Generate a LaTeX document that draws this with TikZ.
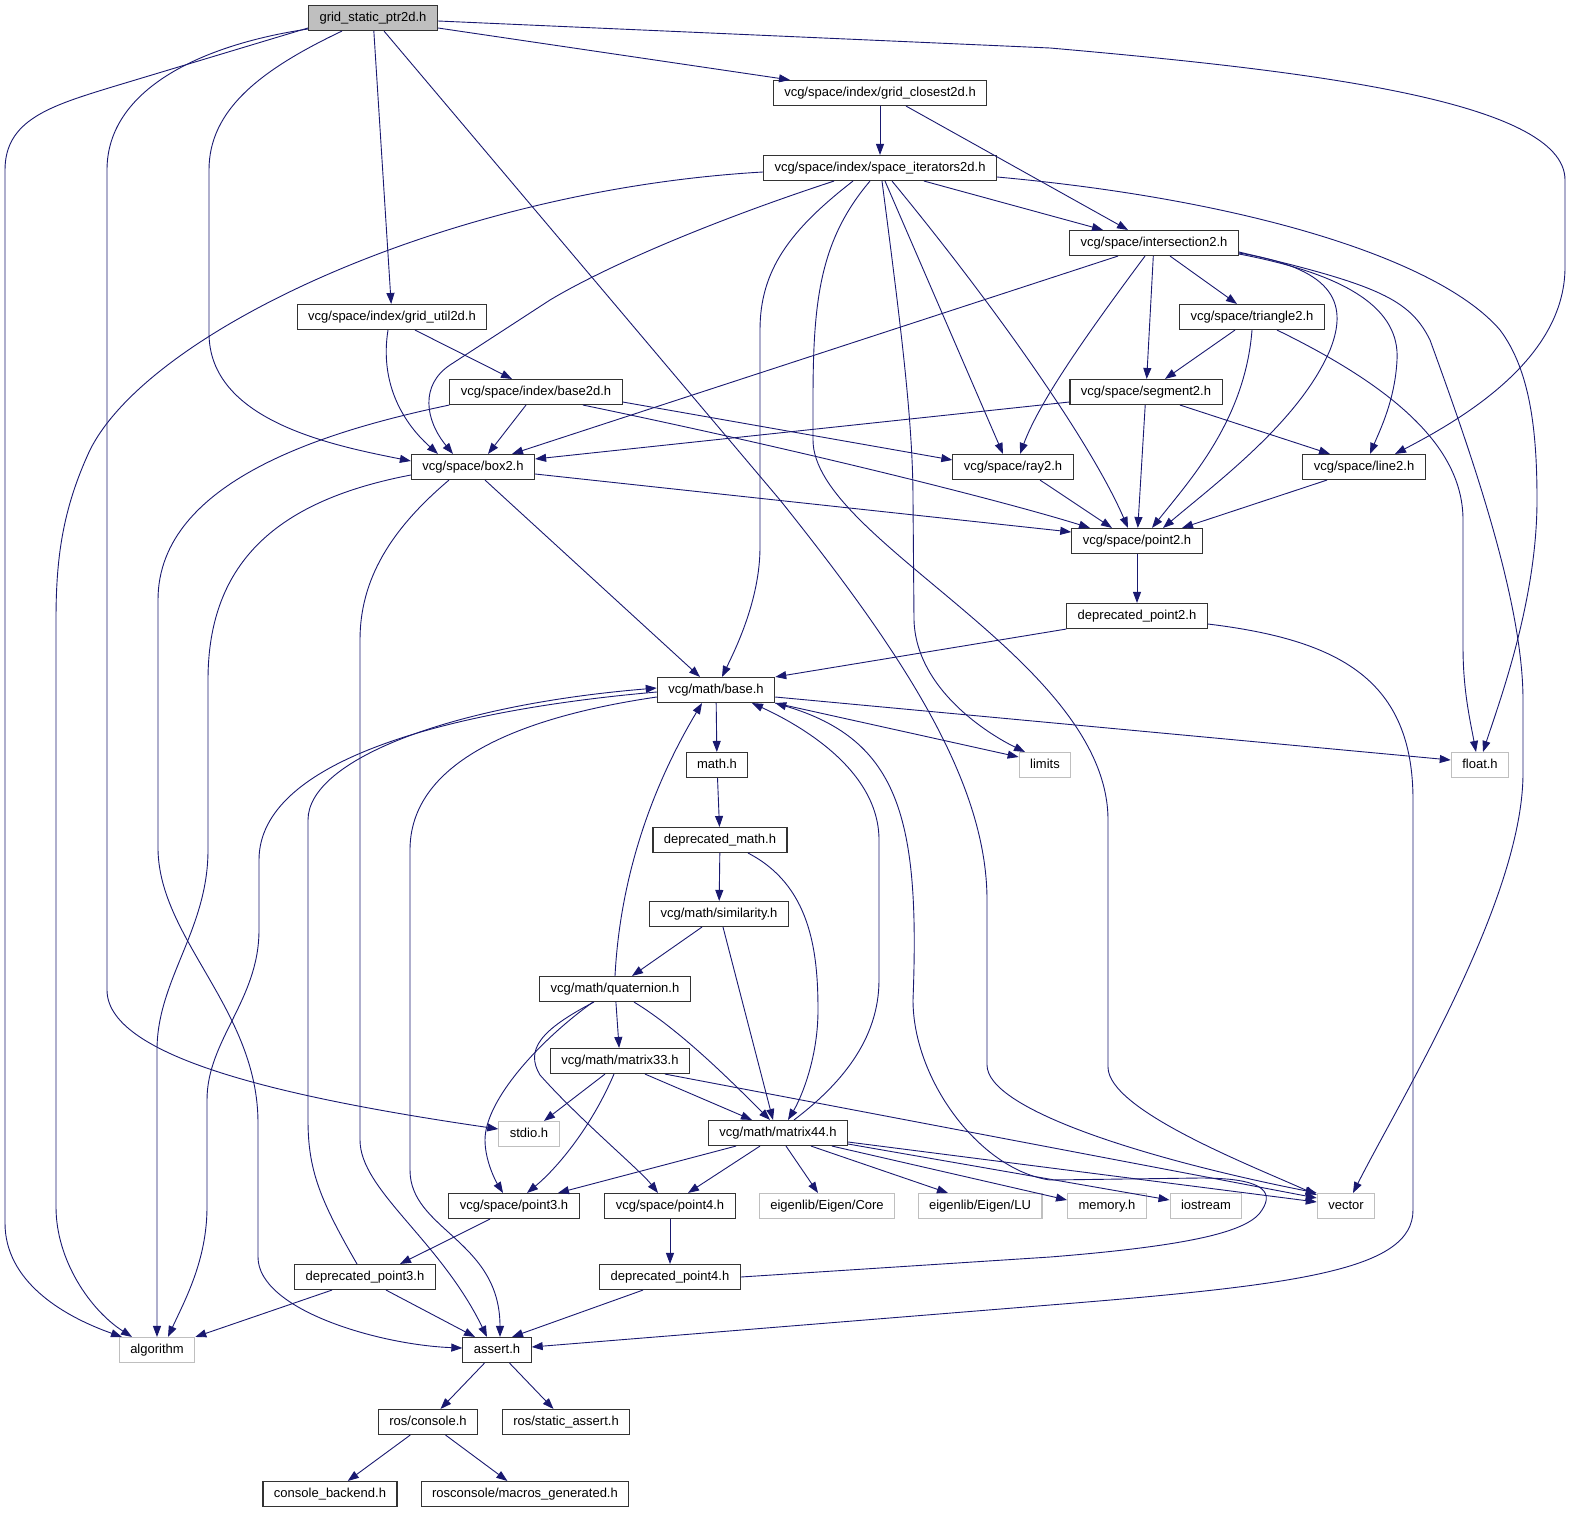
\documentclass[tikz,border=0pt]{standalone}
\usepackage{fontspec}
\setmainfont{Liberation Sans}
\usetikzlibrary{arrows.meta}
\definecolor{edgeblue}{HTML}{191970}
\begin{document}
\begin{tikzpicture}[>={Triangle[length=11pt,width=8pt]},x=1pt,y=-1pt,
	font=\fontsize{13}{15}\selectfont,
	hfile/.style={draw=black!80,line width=1.1pt,fill=white,inner xsep=11pt,inner ysep=0pt,minimum height=25pt,text height=10pt,text depth=3pt},
	sysfile/.style={hfile,draw=black!25},
	mainfile/.style={hfile,fill=black!25},
	incl/.style={->,draw=edgeblue,line width=0.9pt}]
	\useasboundingbox (0,0) rectangle (1571,1531);
	% files
	\node[mainfile] (root) at (373,18) {grid\_static\_ptr2d.h};
	\node[hfile] (gclosest) at (880,93) {vcg/space/index/grid\_closest2d.h};
	\node[hfile] (spiter) at (880,168) {vcg/space/index/space\_iterators2d.h};
	\node[hfile] (isect) at (1154,243) {vcg/space/intersection2.h};
	\node[hfile] (gutil) at (392,317) {vcg/space/index/grid\_util2d.h};
	\node[hfile] (tri) at (1252,317) {vcg/space/triangle2.h};
	\node[hfile] (base2d) at (536,392) {vcg/space/index/base2d.h};
	\node[hfile] (segh) at (1146,392) {vcg/space/segment2.h};
	\node[hfile] (boxh) at (473,467) {vcg/space/box2.h};
	\node[hfile] (rayh) at (1013,467) {vcg/space/ray2.h};
	\node[hfile] (lineh) at (1364,467) {vcg/space/line2.h};
	\node[hfile] (pt2) at (1137,541) {vcg/space/point2.h};
	\node[hfile] (dpt2) at (1137,616) {deprecated\_point2.h};
	\node[hfile] (mbase) at (716,690) {vcg/math/base.h};
	\node[hfile] (mathh) at (717,765) {math.h};
	\node[sysfile] (limits) at (1045,765) {limits};
	\node[sysfile] (floath) at (1480,765) {float.h};
	\node[hfile] (dmath) at (720,840) {deprecated\_math.h};
	\node[hfile] (sim) at (719,914) {vcg/math/similarity.h};
	\node[hfile] (quat) at (615,989) {vcg/math/quaternion.h};
	\node[hfile] (m33) at (620,1061) {vcg/math/matrix33.h};
	\node[sysfile] (stdio) at (529,1134) {stdio.h};
	\node[hfile] (m44) at (778,1133) {vcg/math/matrix44.h};
	\node[hfile] (pt3) at (514,1206) {vcg/space/point3.h};
	\node[hfile] (pt4) at (670,1206) {vcg/space/point4.h};
	\node[sysfile] (ecore) at (827,1206) {eigenlib/Eigen/Core};
	\node[sysfile] (elu) at (980,1206) {eigenlib/Eigen/LU};
	\node[sysfile] (memh) at (1107,1206) {memory.h};
	\node[sysfile] (iost) at (1206,1206) {iostream};
	\node[sysfile] (vect) at (1346,1206) {vector};
	\node[hfile] (dpt3) at (365,1277) {deprecated\_point3.h};
	\node[hfile] (dpt4) at (670,1277) {deprecated\_point4.h};
	\node[sysfile] (algo) at (157,1350) {algorithm};
	\node[hfile] (assrt) at (497,1350) {assert.h};
	\node[hfile] (rcons) at (428,1422) {ros/console.h};
	\node[hfile] (rsass) at (566,1422) {ros/static\_assert.h};
	\node[hfile] (cback) at (330,1494) {console\_backend.h};
	\node[hfile] (rmac) at (525,1494) {rosconsole/macros\_generated.h};
	% grid_static_ptr2d.h
	\draw[incl] ([yshift=-10pt]root.west) -- (112,87) .. controls (50,106) and (5,120) .. (5,170) -- (5,1223) .. controls (5,1280) and (60,1315) .. ([xshift=-35pt]algo.north);
	\draw[incl] ([yshift=-11pt]root.west) .. controls (200,45) and (107,90) .. (107,170) -- (107,990) .. controls (107,1060) and (300,1100) .. ([yshift=5pt]stdio.west);
	\draw[incl] ([xshift=-31pt]root.south) .. controls (260,70) and (209,110) .. (209,170) -- (209,333) .. controls (209,420) and (330,445) .. ([yshift=6pt]boxh.west);
	\draw[incl] (root) -- (gutil);
	\draw[incl] ([xshift=11pt]root.south) -- (780,500) .. controls (900,650) and (987,780) .. (987,900) -- (987,1065) .. controls (987,1110) and (1150,1160) .. (vect.north west);
	\draw[incl] ([yshift=-10pt]root.east) -- ([xshift=-90pt]gclosest.north);
	\draw[incl] ([yshift=-3pt]root.east) -- (1050,48) .. controls (1300,70) and (1565,100) .. (1565,180) -- (1565,267) .. controls (1565,360) and (1460,420) .. ([xshift=31pt]lineh.north);
	% grid_closest2d.h
	\draw[incl] (gclosest) -- (spiter);
	\draw[incl] ([xshift=26pt]gclosest.south) -- ([xshift=-26pt]isect.north);
	% space_iterators2d.h
	\draw[incl] ([yshift=-4pt]spiter.west) .. controls (450,190) and (150,330) .. (90,450) .. controls (62,510) and (56,560) .. (56,620) -- (56,1207) .. controls (56,1260) and (90,1310) .. ([xshift=-25pt]algo.north);
	\draw[incl] ([xshift=-46pt]spiter.south) .. controls (700,225) and (600,270) .. (550,300) -- (450,365) .. controls (420,385) and (425,420) .. ([xshift=-20pt]boxh.north);
	\draw[incl] ([xshift=-27pt]spiter.south) .. controls (790,230) and (760,270) .. (760,330) -- (760,547) .. controls (760,600) and (735,650) .. ([xshift=6pt]mbase.north);
	\draw[incl] ([xshift=-10pt]spiter.south) .. controls (820,240) and (813,300) .. (813,400) -- (813,440) .. controls (813,540) and (1108,660) .. (1108,820) -- (1108,1067) .. controls (1108,1110) and (1250,1165) .. ([yshift=-2pt]vect.north west);
	\draw[incl] ([xshift=2pt]spiter.south) .. controls (900,320) and (913,420) .. (913,500) -- (914,620) .. controls (916,690) and (990,735) .. ([xshift=-20pt]limits.north);
	\draw[incl] ([xshift=5pt]spiter.south) -- ([xshift=-10pt]rayh.north);
	\draw[incl] ([xshift=12pt]spiter.south) .. controls (990,300) and (1090,440) .. ([xshift=-9pt]pt2.north);
	\draw[incl] ([xshift=44pt]spiter.south) -- ([xshift=-51pt]isect.north);
	\draw[incl] ([yshift=-9pt]spiter.east) .. controls (1250,200) and (1440,260) .. (1500,330) .. controls (1530,370) and (1537,430) .. (1537,500) .. controls (1537,600) and (1500,700) .. ([xshift=3pt]floath.north);
	% intersection2.h
	\draw[incl] ([xshift=-36pt]isect.south) -- ([xshift=39pt]boxh.north);
	\draw[incl] ([xshift=-9pt]isect.south) .. controls (1090,330) and (1040,400) .. ([xshift=7pt]rayh.north);
	\draw[incl] (isect) -- (segh);
	\draw[incl] ([xshift=16pt]isect.south) -- ([xshift=-15pt]tri.north);
	\draw[incl] ([yshift=-10pt]isect.east) .. controls (1330,268) and (1350,300) .. (1330,350) .. controls (1300,420) and (1220,480) .. ([xshift=26pt]pt2.north);
	\draw[incl] ([yshift=-11pt]isect.east) .. controls (1350,275) and (1400,310) .. (1397,360) .. controls (1395,400) and (1380,430) .. ([xshift=6pt]lineh.north);
	\draw[incl] ([yshift=-9pt]isect.east) .. controls (1380,285) and (1410,300) .. (1430,340) .. controls (1470,450) and (1523,600) .. (1523,700) -- (1523,773) .. controls (1523,900) and (1400,1100) .. ([xshift=7pt]vect.north);
	% triangle2.h
	\draw[incl] ([xshift=-17pt]tri.south) -- ([xshift=19pt]segh.north);
	\draw[incl] (tri.south) .. controls (1245,420) and (1190,480) .. ([xshift=15pt]pt2.north);
	\draw[incl] ([xshift=25pt]tri.south) .. controls (1400,390) and (1463,450) .. (1463,520) -- (1463,647) .. controls (1463,690) and (1470,720) .. ([xshift=-4pt]floath.north);
	% segment2.h
	\draw[incl] ([yshift=-10pt]segh.west) -- ([yshift=8pt]boxh.east);
	\draw[incl] (segh) -- (pt2);
	\draw[incl] ([xshift=34pt]segh.south) -- ([xshift=-34pt]lineh.north);
	% box2.h
	\draw[incl] ([yshift=-8pt]boxh.west) .. controls (280,500) and (208,560) .. (208,680) -- (208,850) .. controls (208,930) and (157,980) .. (157,1050) -- (algo.north);
	\draw[incl] ([yshift=-7pt]boxh.east) -- ([yshift=9pt]pt2.west);
	\draw[incl] ([xshift=12pt]boxh.south) -- ([xshift=-16pt]mbase.north);
	\draw[incl] ([xshift=-24pt]boxh.south) .. controls (390,530) and (360,580) .. (360,640) -- (360,1140) .. controls (360,1190) and (440,1240) .. ([xshift=-10pt]assrt.north);
	% base2d.h
	\draw[incl] ([xshift=-10pt]base2d.south) -- ([xshift=15pt]boxh.north);
	\draw[incl] ([yshift=-10pt]base2d.east) -- ([yshift=7pt]rayh.west);
	\draw[incl] ([xshift=47pt]base2d.south) .. controls (800,450) and (1000,500) .. ([xshift=-47pt]pt2.north);
	\draw[incl] (base2d.south west) .. controls (330,430) and (158,480) .. (158,600) -- (158,850) .. controls (160,940) and (258,1010) .. (258,1123) -- (258,1257) .. controls (258,1310) and (380,1345) .. ([yshift=2pt]assrt.west);
	% grid_util2d.h
	\draw[incl] ([xshift=-4pt]gutil.south) .. controls (380,380) and (400,420) .. ([xshift=-35pt]boxh.north);
	\draw[incl] ([xshift=23pt]gutil.south) -- ([xshift=-24pt]base2d.north);
	% ray2.h, line2.h, point2.h
	\draw[incl] ([xshift=27pt]rayh.south) -- ([xshift=-25pt]pt2.north);
	\draw[incl] ([xshift=-37pt]lineh.south) -- ([xshift=45pt]pt2.north);
	\draw[incl] (pt2) -- (dpt2);
	\draw[incl] (dpt2.south west) -- (mbase.north east);
	\draw[incl] ([yshift=-8pt]dpt2.east) .. controls (1340,640) and (1413,680) .. (1413,800) -- (1413,1210) .. controls (1413,1270) and (1300,1285) .. (1050,1305) -- ([yshift=3pt]assrt.east);
	% base.h
	\draw[incl] (mbase) -- (mathh);
	\draw[incl] (mbase.south east) -- ([yshift=8pt]limits.west);
	\draw[incl] ([yshift=-7pt]mbase.east) -- ([yshift=5pt]floath.west);
	\draw[incl] ([yshift=-2pt]mbase.west) .. controls (450,710) and (259,760) .. (259,860) -- (259,930) .. controls (259,1000) and (207,1040) .. (207,1100) -- (207,1207) .. controls (207,1260) and (185,1300) .. ([xshift=11pt]algo.north);
	\draw[incl] ([yshift=-7pt]mbase.west) .. controls (500,720) and (410,770) .. (410,850) -- (410,1170) .. controls (410,1230) and (500,1240) .. ([xshift=3pt]assrt.north);
	% math chain
	\draw[incl] (mathh) -- (dmath);
	\draw[incl] (dmath) -- (sim);
	\draw[incl] ([xshift=28pt]dmath.south) .. controls (810,885) and (818,950) .. (818,1010) .. controls (818,1060) and (800,1100) .. ([xshift=10pt]m44.north);
	\draw[incl] ([xshift=-17pt]sim.south) -- ([xshift=17pt]quat.north);
	\draw[incl] ([xshift=4pt]sim.south) -- ([xshift=-5pt]m44.north);
	% quaternion.h
	\draw[incl] (quat.north) .. controls (620,880) and (650,790) .. ([xshift=-14pt]mbase.south);
	\draw[incl] (quat) -- (m33);
	\draw[incl] ([xshift=19pt]quat.south) .. controls (680,1030) and (730,1080) .. ([xshift=-8pt]m44.north);
	\draw[incl] ([xshift=-22pt]quat.south) .. controls (540,1040) and (485,1100) .. (485,1140) .. controls (485,1160) and (495,1180) .. ([xshift=-11pt]pt3.north);
	\draw[incl] ([xshift=-21pt]quat.south) .. controls (540,1030) and (525,1050) .. (540,1075) .. controls (580,1120) and (640,1170) .. ([xshift=-12pt]pt4.north);
	% matrix33.h
	\draw[incl] ([xshift=-15pt]m33.south) -- ([xshift=15pt]stdio.north);
	\draw[incl] ([xshift=-6pt]m33.south) .. controls (590,1130) and (555,1170) .. ([xshift=13pt]pt3.north);
	\draw[incl] ([xshift=25pt]m33.south) -- ([xshift=-26pt]m44.north);
	\draw[incl] ([xshift=45pt]m33.south) -- ([yshift=8pt]vect.west);
	% matrix44.h
	\draw[incl] ([xshift=16pt]m44.north) .. controls (840,1085) and (879,1040) .. (879,980) -- (879,840) .. controls (879,770) and (800,725) .. ([xshift=36pt]mbase.south);
	\draw[incl] ([xshift=-42pt]m44.south) -- ([xshift=44pt]pt3.north);
	\draw[incl] ([xshift=-18pt]m44.south) -- ([xshift=18pt]pt4.north);
	\draw[incl] ([xshift=8pt]m44.south) -- ([xshift=-9pt]ecore.north);
	\draw[incl] ([xshift=33pt]m44.south) -- ([xshift=-32pt]elu.north);
	\draw[incl] ([xshift=54pt]m44.south) -- ([yshift=6pt]memh.west);
	\draw[incl] ([yshift=-11pt]m44.east) -- ([yshift=6pt]iost.west);
	\draw[incl] ([yshift=-9pt]m44.east) -- ([yshift=4pt]vect.west);
	% point3.h, point4.h
	\draw[incl] ([xshift=-24pt]pt3.south) -- ([xshift=35pt]dpt3.north);
	\draw[incl] (pt4) -- (dpt4);
	\draw[incl] ([xshift=-8pt]dpt3.north) .. controls (320,1200) and (308,1170) .. (308,1120) -- (308,820) .. controls (308,760) and (450,705) .. ([yshift=2pt]mbase.west);
	\draw[incl] ([xshift=-33pt]dpt3.south) -- (algo.north east);
	\draw[incl] ([xshift=21pt]dpt3.south) -- ([xshift=-22pt]assrt.north);
	\draw[incl] ([xshift=-27pt]dpt4.south) -- ([xshift=15pt]assrt.north);
	\draw[incl] (dpt4.east) -- (1050,1257) .. controls (1200,1245) and (1250,1230) .. (1262,1210) .. controls (1275,1190) and (1260,1178) .. (1200,1178) -- (1050,1180) .. controls (980,1170) and (913,1080) .. (913,1000) .. controls (920,820) and (900,740) .. (mbase.south east);
	% assert.h, ros
	\draw[incl] (assrt) -- (rcons);
	\draw[incl] (assrt) -- (rsass);
	\draw[incl] (rcons) -- (cback);
	\draw[incl] (rcons) -- (rmac);
\end{tikzpicture}
\end{document}
